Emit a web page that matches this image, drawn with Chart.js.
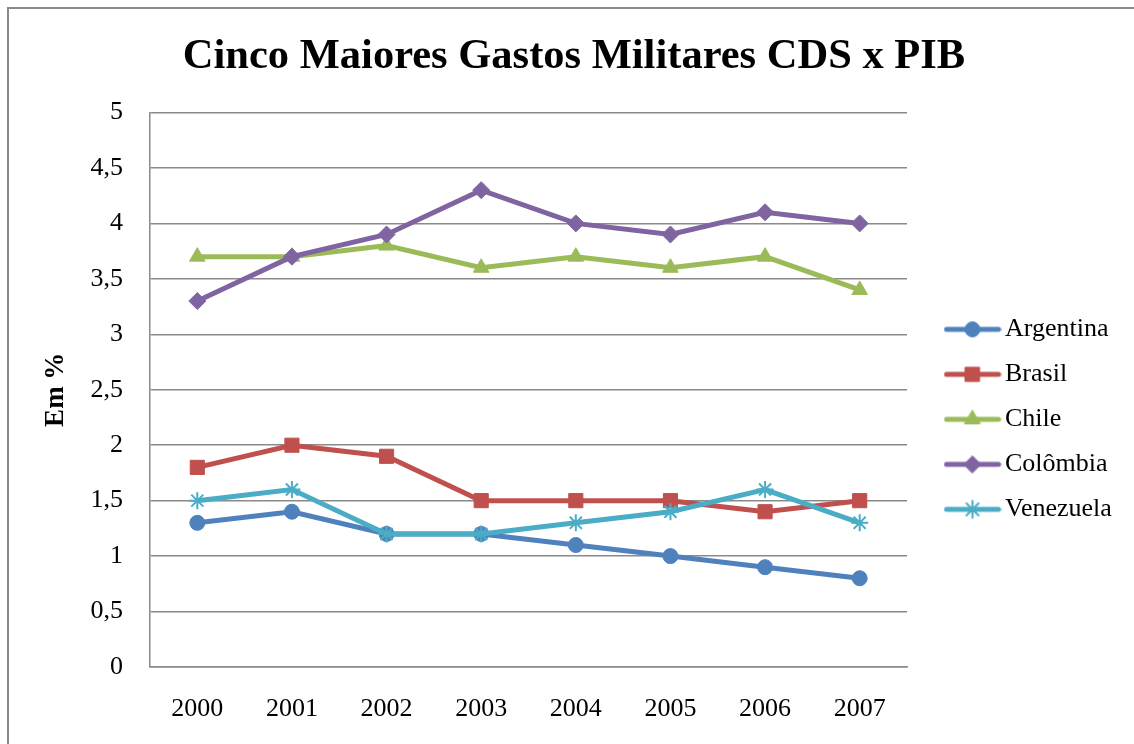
<!DOCTYPE html>
<html>
<head>
<meta charset="utf-8">
<script src="https://cdn.jsdelivr.net/npm/chart.js@4/dist/chart.umd.min.js"></script>
<style>
  html, body { margin: 0; padding: 0; background: #fff; overflow: hidden; width: 1134px; height: 744px; }
  #frame { position: absolute; left: 7px; top: 7px; width: 1200px; height: 800px; border-left: 2px solid #898989; border-top: 2px solid #898989; }
  #wrap { position: absolute; left: 8px; top: 8px; width: 1134px; height: 744px; }
</style>
</head>
<body>
<div id="frame"></div>
<div id="wrap"><canvas id="c" width="1134" height="744"></canvas></div>
<script>
const years = ['2000', '2001', '2002', '2003', '2004', '2005', '2006', '2007'];
const argentina = [1.3, 1.4, 1.2, 1.2, 1.1, 1.0, 0.9, 0.8];
const brasil    = [1.8, 2.0, 1.9, 1.5, 1.5, 1.5, 1.4, 1.5];
const chile     = [3.7, 3.7, 3.8, 3.6, 3.7, 3.6, 3.7, 3.4];
const colombia  = [3.3, 3.7, 3.9, 4.3, 4.0, 3.9, 4.1, 4.0];
const venezuela = [1.5, 1.6, 1.2, 1.2, 1.3, 1.4, 1.6, 1.3];
const seriesNames = ['Argentina', 'Brasil', 'Chile', 'Colômbia', 'Venezuela'];
const titleText = 'Cinco Maiores Gastos Militares CDS x PIB';
const yTitle = 'Em %';

const colors = ['#4F81BD', '#C0504D', '#9BBB59', '#8064A2', '#4BACC6'];
const styles = ['circle', 'rect', 'triangle', 'rectRot', 'star'];
const radii = [7.5, 10, 9, 8.5, 8.5];
const values = [argentina, brasil, chile, colombia, venezuela];
const FONT = "'Liberation Serif', 'Times New Roman', serif";
const LW = 5;

function legendIcon(i) {
  const cv = document.createElement('canvas');
  cv.width = 58; cv.height = 22;
  const ctx = cv.getContext('2d');
  ctx.strokeStyle = colors[i];
  ctx.fillStyle = colors[i];
  ctx.lineWidth = LW;
  ctx.lineCap = 'round';
  ctx.beginPath(); ctx.moveTo(3, 11); ctx.lineTo(55, 11); ctx.stroke();
  ctx.lineWidth = styles[i] === 'star' ? 2 : 1;
  Chart.helpers.drawPoint(ctx, {pointStyle: styles[i], radius: radii[i], rotation: 0, borderWidth: ctx.lineWidth}, 29, 11);
  return cv;
}

const datasets = seriesNames.map((name, i) => ({
  label: name,
  data: values[i],
  borderColor: colors[i],
  backgroundColor: colors[i],
  borderWidth: LW,
  pointStyle: styles[i],
  pointRadius: radii[i],
  pointHoverRadius: radii[i],
  pointBorderWidth: styles[i] === 'star' ? 2 : 1,
  pointBorderColor: colors[i],
  pointBackgroundColor: colors[i],
  tension: 0,
  order: seriesNames.length - i,
  yAxisID: 'y'
}));

new Chart(document.getElementById('c'), {
  type: 'line',
  data: { labels: years, datasets },
  options: {
    responsive: false,
    animation: false,
    layout: { padding: { left: 26, right: 28, top: 0, bottom: 0 } },
    plugins: {
      title: {
        display: true,
        text: titleText,
        color: '#000',
        font: { family: FONT, size: 42.5, weight: 'bold' },
        padding: { top: 24, bottom: 29.5 }
      },
      legend: {
        position: 'right',
        fullSize: false,
        title: { display: true, text: ' ', font: { family: FONT, size: 26 }, padding: { top: 14, bottom: 14 } },
        labels: {
          color: '#000',
          font: { family: FONT, size: 26 },
          usePointStyle: true,
          pointStyleWidth: 39,
          padding: 19,
          sort: (a, b) => a.datasetIndex - b.datasetIndex,
          generateLabels: (chart) => {
            const items = Chart.defaults.plugins.legend.labels.generateLabels(chart);
            items.forEach(it => { it.pointStyle = legendIcon(it.datasetIndex); });
            return items;
          }
        }
      },
      tooltip: { enabled: false }
    },
    scales: {
      x: {
        offset: true,
        grid: { display: false, drawTicks: false },
        border: { display: true, color: '#8a8a8a', width: 1.5 },
        ticks: { color: '#000', font: { family: FONT, size: 26 }, padding: 27, maxRotation: 0 },
        afterFit: (s) => { s.height = 85; }
      },
      y: {
        min: 0, max: 5,
        grid: { color: '#8a8a8a', lineWidth: 1.5, drawTicks: false },
        border: { display: true, color: '#8a8a8a', width: 1.5 },
        ticks: {
          stepSize: 0.5,
          color: '#000',
          font: { family: FONT, size: 26 },
          padding: 27,
          callback: (v) => String(Math.round(v * 10) / 10).replace('.', ',')
        },
        title: {
          display: true,
          text: yTitle,
          color: '#000',
          font: { family: FONT, size: 27, weight: 'bold' },
          padding: { top: 6, bottom: 0 }
        },
        afterFit: (s) => { s.width = 116; }
      },
      y2: {
        position: 'right',
        display: true,
        grid: { display: false, drawTicks: false },
        border: { display: false },
        ticks: { display: false },
        afterFit: (s) => { s.width = 27; }
      }
    }
  }
});
</script>
</body>
</html>
